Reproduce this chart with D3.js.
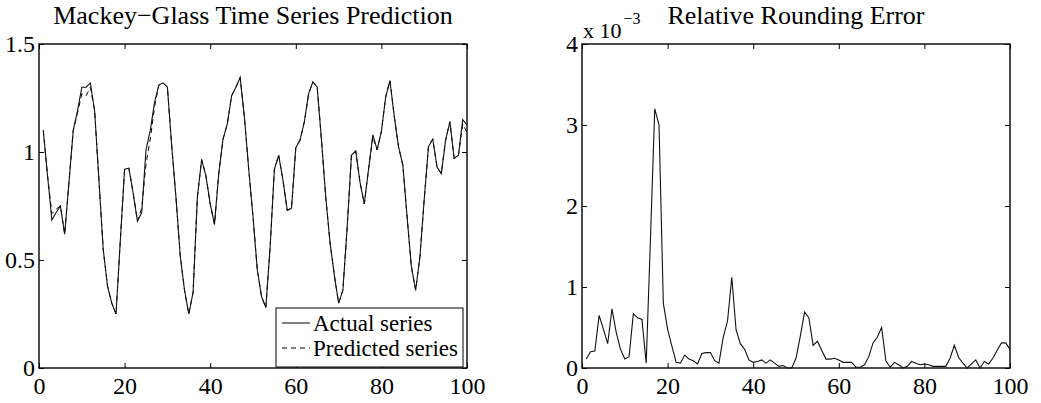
<!DOCTYPE html>
<html>
<head>
<meta charset="utf-8">
<script src="https://cdn.jsdelivr.net/npm/d3@7"></script>
<style>
  body { margin: 0; background: #fff; }
  svg { display: block; font-family: "Liberation Serif", "Times New Roman", serif; }
</style>
</head>
<body>
<svg></svg>
<script>
// sample index 1..100
let steps = d3.range(1, 101)

// Mackey-Glass, actual series
let actual = [
  1.10, 0.89, 0.685, 0.72, 0.75, 0.62, 0.86, 1.10, 1.19, 1.30,
  1.30, 1.32, 1.19, 0.87, 0.55, 0.38, 0.30, 0.25, 0.59, 0.92,
  0.925, 0.81, 0.68, 0.72, 1.01, 1.10, 1.23, 1.31, 1.32, 1.30,
  1.03, 0.79, 0.52, 0.36, 0.25, 0.35, 0.79, 0.965, 0.89, 0.76,
  0.665, 0.90, 1.06, 1.13, 1.26, 1.30, 1.345, 1.16, 0.92, 0.70,
  0.455, 0.33, 0.28, 0.56, 0.92, 0.985, 0.87, 0.73, 0.74, 1.02,
  1.055, 1.14, 1.27, 1.325, 1.30, 1.055, 0.79, 0.58, 0.43, 0.30,
  0.36, 0.65, 0.985, 1.005, 0.86, 0.76, 0.92, 1.08, 1.01, 1.095,
  1.255, 1.33, 1.165, 1.025, 0.94, 0.70, 0.47, 0.36, 0.515, 0.78,
  1.025, 1.06, 0.93, 0.90, 1.055, 1.14, 0.97, 0.985, 1.15, 1.125
]

// Mackey-Glass, predicted series
let predicted = [
  1.10, 0.89, 0.715, 0.735, 0.75, 0.62, 0.86, 1.10, 1.18, 1.27,
  1.26, 1.30, 1.19, 0.87, 0.55, 0.38, 0.30, 0.25, 0.59, 0.92,
  0.925, 0.81, 0.68, 0.74, 0.945, 1.06, 1.21, 1.31, 1.32, 1.30,
  1.03, 0.79, 0.52, 0.36, 0.25, 0.35, 0.79, 0.965, 0.89, 0.76,
  0.665, 0.90, 1.06, 1.13, 1.26, 1.30, 1.345, 1.16, 0.92, 0.70,
  0.455, 0.33, 0.28, 0.56, 0.92, 0.985, 0.87, 0.73, 0.74, 1.02,
  1.055, 1.14, 1.27, 1.325, 1.30, 1.055, 0.79, 0.58, 0.43, 0.30,
  0.36, 0.65, 0.985, 1.005, 0.86, 0.76, 0.92, 1.07, 1.01, 1.095,
  1.255, 1.33, 1.165, 1.025, 0.94, 0.70, 0.47, 0.36, 0.515, 0.78,
  1.025, 1.06, 0.93, 0.90, 1.055, 1.14, 0.97, 0.985, 1.13, 1.09
]

// relative rounding error, in units of 10^-3
let relError = [
  0.11, 0.20, 0.21, 0.65, 0.48, 0.30, 0.73, 0.44, 0.23, 0.11,
  0.14, 0.67, 0.62, 0.60, 0.06, 1.60, 3.20, 3.00, 0.80, 0.48,
  0.27, 0.07, 0.06, 0.16, 0.11, 0.09, 0.05, 0.18, 0.19, 0.19,
  0.09, 0.06, 0.38, 0.58, 1.12, 0.47, 0.30, 0.23, 0.10, 0.07,
  0.08, 0.10, 0.06, 0.10, 0.06, 0.02, 0.03, 0.00, 0.00, 0.12,
  0.39, 0.69, 0.62, 0.28, 0.33, 0.22, 0.11, 0.11, 0.12, 0.10,
  0.07, 0.07, 0.07, 0.01, 0.01, 0.04, 0.14, 0.31, 0.38, 0.50,
  0.09, 0.01, 0.07, 0.04, 0.00, 0.02, 0.08, 0.06, 0.04, 0.05,
  0.04, 0.02, 0.02, 0.02, 0.02, 0.12, 0.28, 0.13, 0.06, 0.00,
  0.05, 0.10, 0.00, 0.08, 0.05, 0.12, 0.22, 0.31, 0.31, 0.23
]

let xTicks = [0, 20, 40, 60, 80, 100]
let leftYTicks = [0, 0.5, 1, 1.5]
let leftYLabels = ['0', '0.5', '1', '1.5']
let rightYTicks = [0, 1, 2, 3, 4]

let leftTitle = 'Mackey\u2212Glass Time Series Prediction'
let rightTitle = 'Relative Rounding Error'
let legendNames = ['Actual series', 'Predicted series']

let width = 1041
let height = 403
let plotTop = 44
let plotBottom = 368
let tickLen = 5
let serif = '"Liberation Serif", "Times New Roman", serif'

let svg = d3.select('svg')
    .attr('width', width)
    .attr('height', height)

// draws one boxed matlab-style axes, returns the scales
let drawPanel = (x0, x1, yMax, yTicks, yFormat, title) => {
    let xScale = d3.scaleLinear().domain([0, 100]).range([x0, x1])
    let yScale = d3.scaleLinear().domain([0, yMax]).range([plotBottom, plotTop])

    let g = svg.append('g')

    g.append('g')
        .attr('transform', 'translate(0,' + plotBottom + ')')
        .call(d3.axisBottom(xScale).tickValues(xTicks).tickSize(-tickLen).tickPadding(9))
    g.append('g')
        .attr('transform', 'translate(0,' + plotTop + ')')
        .call(d3.axisTop(xScale).tickValues(xTicks).tickSize(-tickLen).tickFormat(''))
    g.append('g')
        .attr('transform', 'translate(' + x0 + ',0)')
        .call(d3.axisLeft(yScale).tickValues(yTicks).tickSize(-tickLen).tickPadding(4).tickFormat(yFormat))
    g.append('g')
        .attr('transform', 'translate(' + x1 + ',0)')
        .call(d3.axisRight(yScale).tickValues(yTicks).tickSize(-tickLen).tickFormat(''))

    g.selectAll('.domain').remove()
    g.selectAll('.tick line')
        .attr('stroke', '#000')
        .attr('stroke-width', 1)
    g.selectAll('.tick text')
        .attr('fill', '#000')
        .style('font-family', serif)
        .style('font-size', '24px')

    g.append('rect')
        .attr('x', x0)
        .attr('y', plotTop)
        .attr('width', x1 - x0)
        .attr('height', plotBottom - plotTop)
        .attr('fill', 'none')
        .attr('stroke', '#000')
        .attr('stroke-width', 1.4)

    g.append('text')
        .attr('x', (x0 + x1) / 2)
        .attr('y', 24)
        .attr('text-anchor', 'middle')
        .style('font-size', '26px')
        .text(title)

    return { x: xScale, y: yScale, g: g }
}

let left = drawPanel(39, 467, 1.5, leftYTicks, (d, i) => leftYLabels[i], leftTitle)
let right = drawPanel(582, 1010, 4, rightYTicks, d3.format('d'), rightTitle)

let lineLeft = d3.line()
    .x((d, i) => left.x(steps[i]))
    .y((d) => left.y(d))

left.g.append('path')
    .datum(predicted)
    .attr('d', lineLeft)
    .attr('fill', 'none')
    .attr('stroke', '#000')
    .attr('stroke-width', 1)
    .attr('stroke-dasharray', '5,4')

left.g.append('path')
    .datum(actual)
    .attr('d', lineLeft)
    .attr('fill', 'none')
    .attr('stroke', '#111')
    .attr('stroke-width', 1.1)

let lineRight = d3.line()
    .x((d, i) => right.x(steps[i]))
    .y((d) => right.y(d))

right.g.append('path')
    .datum(relError)
    .attr('d', lineRight)
    .attr('fill', 'none')
    .attr('stroke', '#111')
    .attr('stroke-width', 1.1)

// exponent label above the right axes
let expo = right.g.append('text')
    .attr('x', 583)
    .attr('y', 38)
    .style('font-size', '22px')
expo.append('tspan').text('x 10')
expo.append('tspan')
    .attr('dx', 2)
    .attr('dy', -14)
    .style('font-size', '16px')
    .text('\u22123')

// legend
let legend = left.g.append('g')
legend.append('rect')
    .attr('x', 276)
    .attr('y', 308)
    .attr('width', 187)
    .attr('height', 59)
    .attr('fill', '#fff')
    .attr('stroke', '#000')
    .attr('stroke-width', 1)

legendNames.forEach((name, i) => {
    let cy = 323 + i * 25
    legend.append('line')
        .attr('x1', 282)
        .attr('x2', 310)
        .attr('y1', cy)
        .attr('y2', cy)
        .attr('stroke', '#000')
        .attr('stroke-width', 1)
        .attr('stroke-dasharray', i == 1 ? '5,4' : null)
    legend.append('text')
        .attr('x', 313)
        .attr('y', cy)
        .attr('dy', '0.35em')
        .style('font-size', '23px')
        .text(name)
})
</script>
</body>
</html>
